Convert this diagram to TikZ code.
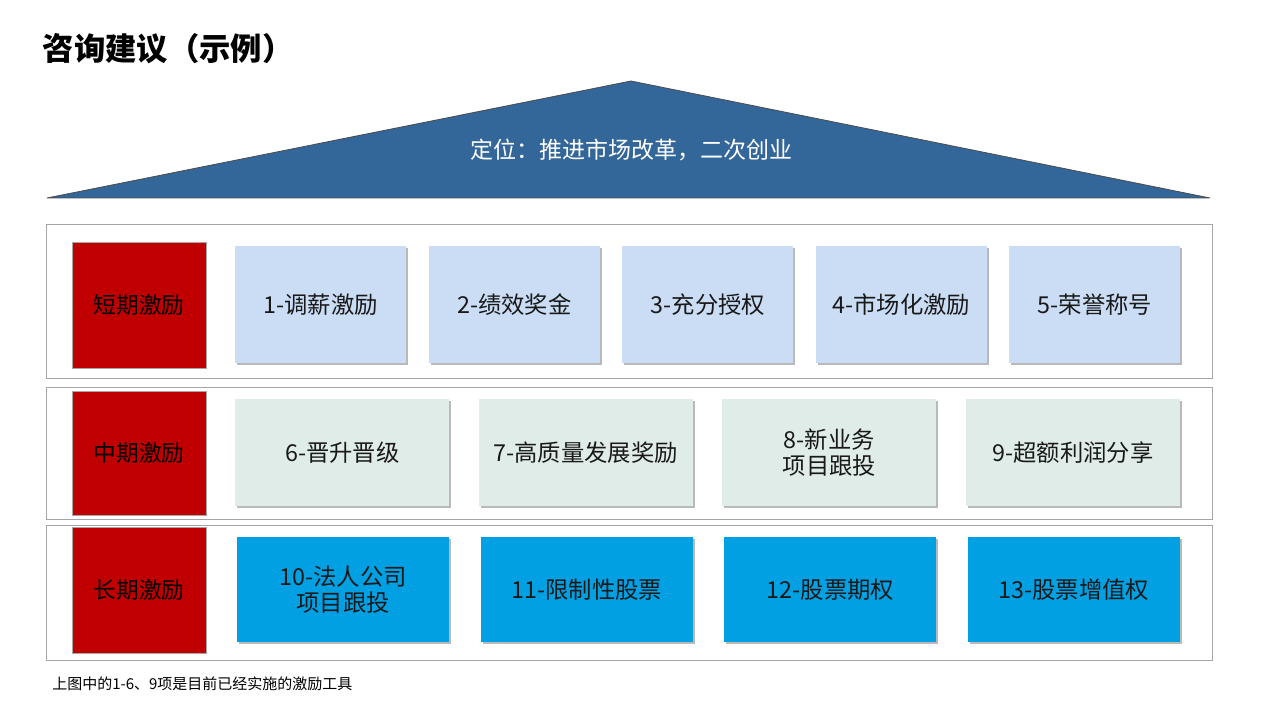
\documentclass[tikz,border=0pt]{standalone}
\usepackage{fontspec}
\setmainfont{Noto Sans CJK SC}
\usetikzlibrary{positioning,shadows}

\definecolor{roofblue}{RGB}{51,102,153}
\definecolor{shortfill}{RGB}{202,221,244}
\definecolor{midfill}{RGB}{223,236,231}
\definecolor{longfill}{RGB}{0,160,227}
\definecolor{termred}{RGB}{192,0,0}
\definecolor{framegray}{RGB}{166,166,166}

\begin{document}
\begin{tikzpicture}[x=0.75pt, y=-0.75pt,
    frame/.style={draw=framegray, line width=0.8pt, anchor=north west, inner sep=0pt},
    term/.style={draw=black!35, fill=termred, text=black, anchor=north west, inner sep=0pt,
        minimum width=100.5pt, font=\fontsize{17}{20}\selectfont},
    tool/.style={inner sep=0pt, align=center, text=black!90, font=\fontsize{17.5}{20}\selectfont,
        drop shadow={shadow xshift=1.5pt, shadow yshift=-1.5pt, fill=black!50, opacity=0.55}},
    shortbox/.style={tool, fill=shortfill, minimum width=128.25pt, minimum height=87.75pt},
    midbox/.style={tool, fill=midfill, minimum width=160.5pt, minimum height=80.25pt},
    longbox/.style={tool, fill=longfill, minimum width=159pt, minimum height=78.75pt}]

    \useasboundingbox (0,0) rectangle (1280,720);

    % Title
    \node (title) [anchor=west, font=\fontsize{23.5}{27}\selectfont\bfseries] at (38,49) {咨询建议（示例）};

    % Roof
    \fill[roofblue, draw=black!70, line width=0.6pt] (47,198) -- (631,81) -- (1210,198) -- cycle;
    \node (roof) [text=white, font=\fontsize{17.25}{20}\selectfont] at (631,150) {定位：推进市场改革，二次创业};

    % Row frames
    \node (shortrow) [frame, minimum width=874.5pt, minimum height=115.5pt] at (46,224) {};
    \node (midrow) [frame, minimum width=874.5pt, minimum height=99pt] at (46,387) {};
    \node (longrow) [frame, minimum width=874.5pt, minimum height=101.25pt] at (46,525) {};

    % Term labels
    \node (short) [term, minimum height=94.5pt] at (72,242) {短期激励};
    \node (mid) [term, minimum height=93pt] at (72,391) {中期激励};
    \node (long) [term, minimum height=94.5pt] at (72,527) {长期激励};

    % Short term tools
    \node (t1) [shortbox, anchor=north west] at (235,246) {1-调薪激励};
    \node (t2) [shortbox, right=16.5pt of t1] {2-绩效奖金};
    \node (t3) [shortbox, right=16.5pt of t2] {3-充分授权};
    \node (t4) [shortbox, right=16.5pt of t3] {4-市场化激励};
    \node (t5) [shortbox, right=16.5pt of t4] {5-荣誉称号};

    % Mid term tools
    \node (t6) [midbox, anchor=north west] at (235,399) {6-晋升晋级};
    \node (t7) [midbox, right=21.75pt of t6] {7-高质量发展奖励};
    \node (t8) [midbox, right=21.75pt of t7] {8-新业务\\项目跟投};
    \node (t9) [midbox, right=21.75pt of t8] {9-超额利润分享};

    % Long term tools
    \node (t10) [longbox, anchor=north west] at (237,537) {10-法人公司\\项目跟投};
    \node (t11) [longbox, right=23.25pt of t10] {11-限制性股票};
    \node (t12) [longbox, right=23.25pt of t11] {12-股票期权};
    \node (t13) [longbox, right=23.25pt of t12] {13-股票增值权};

    % Note
    \node (note) [anchor=west, inner sep=0pt, font=\fontsize{11.25}{13}\selectfont] at (52,684)
        {上图中的1-6、9项是目前已经实施的激励工具};

\end{tikzpicture}
\end{document}
